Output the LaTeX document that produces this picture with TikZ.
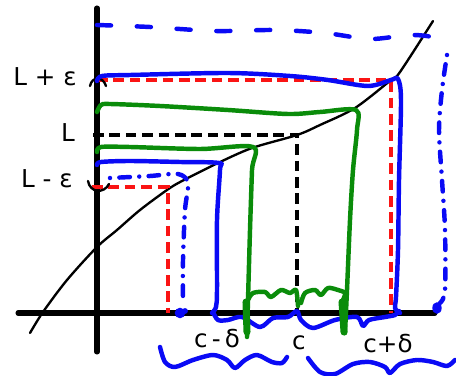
\documentclass[tikz,border=0pt]{standalone}
\usepackage{fontspec}
\setmainfont{DejaVu Sans}
\usetikzlibrary{calc}
\definecolor{Ink}{HTML}{000000}
\definecolor{Blue}{HTML}{0A0AF5}
\definecolor{Red}{HTML}{FA1414}
\definecolor{Green}{HTML}{0A8C0A}

\begin{document}
\begin{tikzpicture}[x=0.03cm,y=-0.03cm,
    axis/.style={line width=4.3pt,line cap=round,draw=Ink},
    graph/.style={line width=2pt,line cap=round,draw=Ink},
    guide/.style={line width=3.8pt,dash pattern=on 9pt off 5pt},
    pen/.style={line width=3.8pt,line cap=round,line join=round},
    dotdash/.style={pen,dash pattern=on 0pt off 8pt on 9pt off 8pt},
    lbl/.style={font=\fontsize{21}{24}\selectfont,inner sep=0pt}]
    \useasboundingbox (0,0) rectangle (456,376);
    % axes and f
    \draw[axis] (18,313) -- (435,313);
    \draw[axis] (97,8) -- (97,352);
    \draw[graph] plot[smooth] coordinates {(30,333) (43,312) (67,280) (97,247)
      (117,230) (140,210) (167,190) (182,181) (218,163) (252,148) (297,135)
      (320,125) (355,108) (391,80) (400,72) (433,21)};
    % epsilon and L guides
    \draw[guide,Red] (97,80) -- (391,80) -- (391,313);
    \draw[guide,Red] (92,187) -- (168,187) -- (168,313);
    \draw[guide,Ink] (93,135) -- (297,135) -- (297,313);
    % labels
    \node[lbl] (epshi) at (45,77) {L + ε};
    \node[lbl] (lim) at (68,133) {L};
    \node[lbl] (epslo) at (47,179) {L - ε};
    \node[lbl] (dlo) at (217,339) {c\,-\,δ};
    \node[lbl] (pt) at (299,343) {c};
    \node[lbl] (dhi) at (388,344) {c+δ};
    \draw[graph] (90,86) .. controls (92,76) and (103,76) .. (106,86);
    \draw[graph] (88,181) .. controls (90,193) and (104,194) .. (109,184);
    % blue: delta that works
    \draw[pen,Blue] plot[smooth] coordinates {(97,81) (102,76) (130,75) (228,73)
      (290,76) (328,80) (368,86) (391,80) (398,79) (401,100) (399,180)
      (398,250) (396,297) (395,308) (400,313)};
    \draw[pen,Blue] plot[smooth] coordinates {(97,165) (101,162) (130,161)
      (180,162) (219,163) (220,170) (217,220) (217,290) (216,307) (212,313)};
    \draw[pen,Blue] plot[smooth] coordinates {(213,312) (218,320) (228,320)
      (242,317) (260,327) (273,318) (288,317) (297,311) (301,320) (313,328)
      (335,320) (357,317) (363,326) (369,320) (385,317) (395,315) (399,311)};
    \draw[pen,Blue] plot[smooth] coordinates {(160,347) (165,362) (175,367)
      (193,360) (213,355) (227,360) (235,368) (245,360) (257,355) (272,362)
      (282,363) (287,357)};
    \draw[pen,Blue] plot[smooth] coordinates {(308,358) (320,372) (335,374)
      (353,364) (370,362) (385,367) (390,373) (400,364) (417,360) (433,362)
      (447,366) (455,360)};
    % blue: delta too big
    \draw[pen,Blue,dash pattern=on 12pt off 22pt] plot[smooth] coordinates {(97,25)
      (150,27) (215,31) (275,30) (325,33) (370,39) (410,35) (435,38) (447,50)};
    \draw[dotdash,Blue] plot[smooth] coordinates {(447,55) (442,90) (439,130)
      (442,180) (445,230) (445,290) (440,303)};
    \fill[Blue] (437,308) ellipse [x radius=4pt,y radius=5pt];
    \draw[dotdash,Blue] plot[smooth] coordinates {(110,178) (150,176) (178,174)
      (188,183) (185,210) (183,260) (183,302)};
    \fill[Blue] (180,313) circle [radius=4.5pt];
    \fill[Blue] (185,311) circle [radius=2.5pt];
    % green: smaller epsilon
    \draw[pen,Green] plot[smooth] coordinates {(97,112) (101,105) (110,104)
      (160,106) (228,110) (288,114) (320,112) (356,110) (357,130) (353,170)
      (350,220) (347,290) (345,333)};
    \draw[pen,Green] plot[smooth] coordinates {(97,152) (101,147) (130,147)
      (200,149) (253,147) (252,170) (250,230) (248,300) (247,337)};
    \draw[pen,Green,line width=6pt] (342,302) -- (344,332);
    \draw[pen,Green,line width=6pt] (246,302) -- (247,332);
    \draw[pen,Green] plot[smooth] coordinates {(248,300) (253,293) (265,292)
      (271,297) (281,290) (290,293) (296,290) (298,306)};
    \draw[pen,Green] plot[smooth] coordinates {(301,303) (305,293) (315,290)
      (321,295) (328,288) (338,290) (345,293) (343,300)};
\end{tikzpicture}
\end{document}
